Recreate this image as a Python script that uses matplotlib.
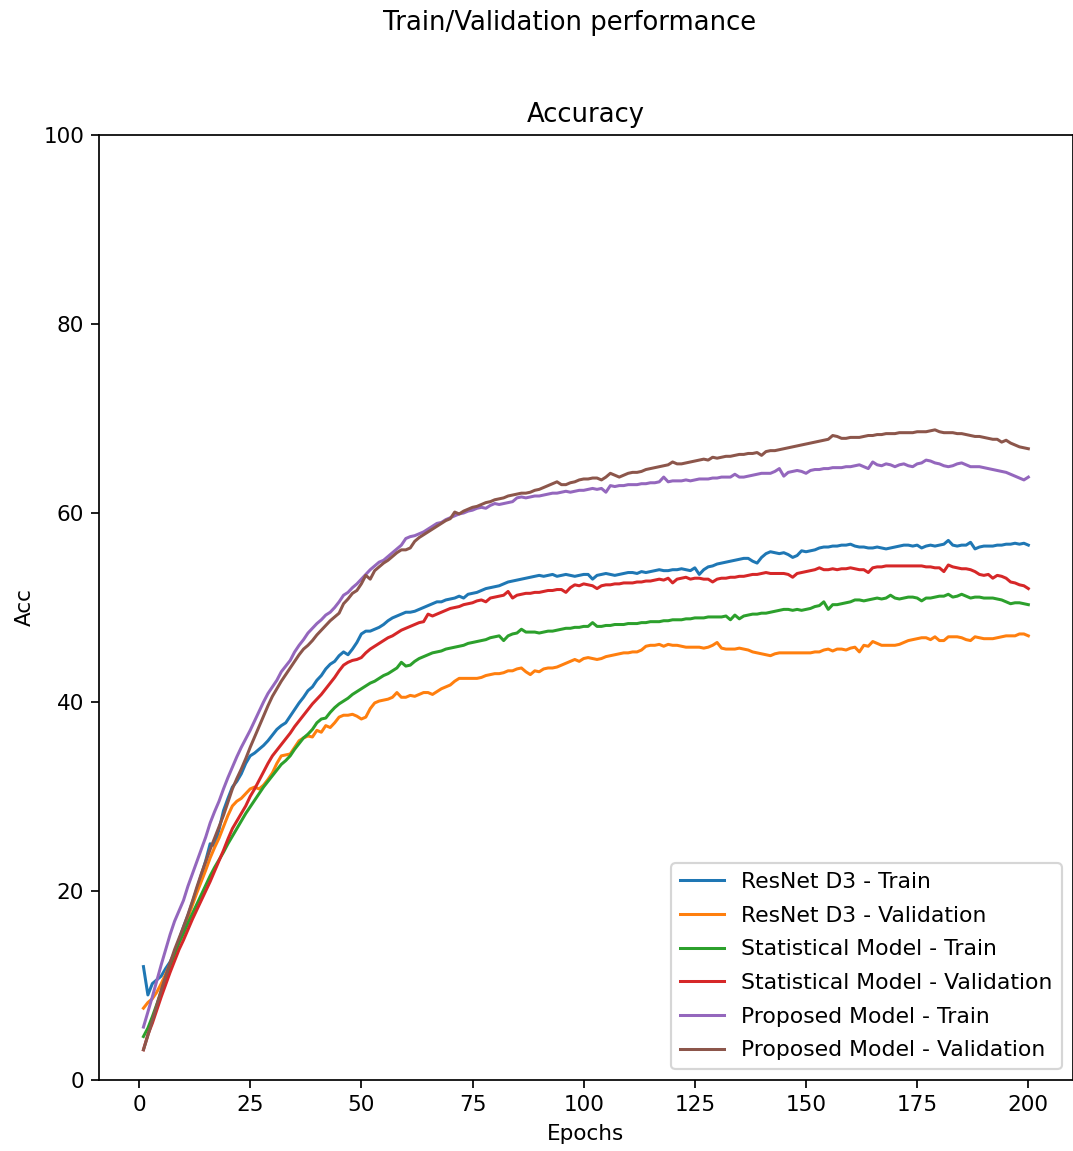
import matplotlib
matplotlib.use("Agg")
import matplotlib.pyplot as plt

epochs = list(range(1, 201))

resnet_train = [
    12.0, 9.0, 10.2, 10.6, 11.0, 11.8, 12.5, 13.5, 14.8, 16.2,
    17.4, 18.8, 20.2, 21.7, 23.2, 25.0, 24.8, 26.5, 28.5, 29.8,
    31.0, 31.6, 32.4, 33.5, 34.3, 34.6, 35.0, 35.4, 35.9, 36.5,
    37.1, 37.5, 37.8, 38.5, 39.2, 39.9, 40.5, 41.2, 41.6, 42.3,
    42.8, 43.5, 44.0, 44.3, 44.9, 45.3, 45.0, 45.6, 46.3, 47.2,
    47.5, 47.5, 47.7, 47.9, 48.2, 48.6, 48.9, 49.1, 49.3, 49.5,
    49.5, 49.6, 49.8, 50.0, 50.2, 50.4, 50.6, 50.6, 50.8, 50.9,
    51.0, 51.2, 51.0, 51.4, 51.5, 51.6, 51.8, 52.0, 52.1, 52.2,
    52.3, 52.5, 52.7, 52.8, 52.9, 53.0, 53.1, 53.2, 53.3, 53.4,
    53.3, 53.4, 53.5, 53.3, 53.4, 53.5, 53.4, 53.3, 53.4, 53.5,
    53.5, 53.0, 53.4, 53.5, 53.6, 53.5, 53.4, 53.5, 53.6, 53.7,
    53.7, 53.6, 53.8, 53.7, 53.8, 53.9, 54.0, 53.9, 53.9, 54.0,
    54.0, 54.1, 54.0, 53.9, 54.2, 53.5, 54.0, 54.3, 54.4, 54.6,
    54.7, 54.8, 54.9, 55.0, 55.1, 55.2, 55.2, 54.9, 54.7, 55.3,
    55.7, 55.9, 55.8, 55.7, 55.8, 55.6, 55.3, 55.5, 56.0, 55.9,
    56.0, 56.1, 56.3, 56.4, 56.4, 56.5, 56.5, 56.6, 56.6, 56.7,
    56.5, 56.4, 56.4, 56.3, 56.3, 56.4, 56.3, 56.2, 56.3, 56.4,
    56.5, 56.6, 56.6, 56.5, 56.6, 56.3, 56.5, 56.6, 56.5, 56.6,
    56.7, 57.1, 56.6, 56.5, 56.6, 56.6, 56.9, 56.2, 56.4, 56.5,
    56.5, 56.5, 56.6, 56.6, 56.7, 56.7, 56.8, 56.7, 56.8, 56.6,
]

resnet_val = [
    7.6, 8.2, 8.6, 9.3, 10.2, 11.2, 12.3, 13.5, 14.7, 16.0,
    17.2, 18.5, 19.8, 21.0, 22.2, 23.5, 24.6, 25.6, 26.8, 28.0,
    29.0, 29.5, 29.8, 30.3, 30.8, 31.0, 30.8, 31.2, 31.8, 32.5,
    33.5, 34.3, 34.4, 34.5, 35.2, 35.9, 36.2, 36.4, 36.3, 37.0,
    36.8, 37.5, 37.3, 37.8, 38.4, 38.6, 38.6, 38.7, 38.5, 38.2,
    38.4, 39.3, 39.9, 40.1, 40.2, 40.3, 40.5, 41.0, 40.5, 40.5,
    40.7, 40.6, 40.8, 41.0, 41.0, 40.8, 41.1, 41.4, 41.6, 41.8,
    42.2, 42.5, 42.5, 42.5, 42.5, 42.5, 42.6, 42.8, 42.9, 43.0,
    43.0, 43.1, 43.3, 43.3, 43.5, 43.6, 43.2, 42.9, 43.3, 43.2,
    43.5, 43.6, 43.6, 43.7, 43.9, 44.1, 44.3, 44.5, 44.3, 44.6,
    44.7, 44.6, 44.5, 44.6, 44.8, 44.9, 45.0, 45.1, 45.2, 45.2,
    45.3, 45.3, 45.5, 45.9, 46.0, 46.0, 46.1, 45.9, 46.1, 46.0,
    46.0, 45.9, 45.8, 45.8, 45.8, 45.8, 45.7, 45.8, 46.0, 46.3,
    45.7, 45.6, 45.6, 45.6, 45.7, 45.6, 45.5, 45.3, 45.2, 45.1,
    45.0, 44.9, 45.1, 45.2, 45.2, 45.2, 45.2, 45.2, 45.2, 45.2,
    45.2, 45.3, 45.3, 45.5, 45.6, 45.4, 45.6, 45.6, 45.5, 45.7,
    45.8, 45.3, 46.0, 45.9, 46.4, 46.2, 46.0, 46.0, 46.0, 46.0,
    46.1, 46.3, 46.5, 46.6, 46.7, 46.8, 46.8, 46.6, 46.9, 46.5,
    46.5, 46.9, 46.9, 46.9, 46.8, 46.6, 46.5, 46.9, 46.8, 46.7,
    46.7, 46.7, 46.8, 46.9, 47.0, 47.0, 47.0, 47.2, 47.2, 47.0,
]

stat_train = [
    4.6, 5.5, 6.7, 8.0, 9.4, 10.8, 12.1, 13.3, 14.5, 15.5,
    16.6, 17.6, 18.6, 19.6, 20.6, 21.6, 22.5, 23.3, 24.1, 25.0,
    25.8, 26.6, 27.4, 28.2, 28.9, 29.6, 30.3, 31.0, 31.6, 32.2,
    32.8, 33.4, 33.8, 34.3, 35.0, 35.6, 36.2, 36.6, 37.1, 37.8,
    38.2, 38.3, 38.9, 39.4, 39.8, 40.1, 40.4, 40.8, 41.1, 41.4,
    41.7, 42.0, 42.2, 42.5, 42.8, 43.0, 43.3, 43.6, 44.2, 43.8,
    43.9, 44.3, 44.6, 44.8, 45.0, 45.2, 45.3, 45.4, 45.6, 45.7,
    45.8, 45.9, 46.0, 46.2, 46.3, 46.4, 46.5, 46.6, 46.8, 46.9,
    47.0, 46.5, 47.0, 47.2, 47.3, 47.7, 47.4, 47.4, 47.4, 47.3,
    47.4, 47.5, 47.5, 47.6, 47.7, 47.8, 47.8, 47.9, 47.9, 48.0,
    48.0, 48.4, 48.0, 48.0, 48.1, 48.1, 48.2, 48.2, 48.2, 48.3,
    48.3, 48.3, 48.4, 48.4, 48.5, 48.5, 48.5, 48.6, 48.6, 48.7,
    48.7, 48.7, 48.8, 48.8, 48.9, 48.9, 48.9, 49.0, 49.0, 49.0,
    49.0, 49.1, 48.7, 49.2, 48.8, 49.1, 49.2, 49.3, 49.3, 49.4,
    49.4, 49.5, 49.6, 49.7, 49.8, 49.8, 49.7, 49.8, 49.7, 49.8,
    49.9, 50.1, 50.2, 50.6, 49.8, 50.3, 50.3, 50.4, 50.5, 50.6,
    50.8, 50.8, 50.7, 50.8, 50.9, 51.0, 50.9, 51.0, 51.3, 51.0,
    50.9, 51.0, 51.1, 51.1, 51.0, 50.7, 51.0, 51.0, 51.1, 51.2,
    51.2, 51.4, 51.1, 51.2, 51.4, 51.2, 51.0, 51.1, 51.1, 51.0,
    51.0, 51.0, 50.9, 50.8, 50.6, 50.4, 50.5, 50.5, 50.4, 50.3,
]

stat_val = [
    3.2, 4.8, 6.0, 7.4, 8.8, 10.1, 11.4, 12.6, 13.8, 14.8,
    15.9, 17.0, 18.0, 19.0, 20.0, 21.0, 22.1, 23.2, 24.3, 25.5,
    26.6, 27.4, 28.2, 29.0, 30.0, 30.8, 31.7, 32.6, 33.5, 34.3,
    34.9, 35.5, 36.1, 36.7, 37.4, 38.0, 38.6, 39.2, 39.8, 40.3,
    40.8, 41.4, 42.0, 42.6, 43.3, 43.9, 44.2, 44.4, 44.5, 44.7,
    45.2, 45.6, 45.9, 46.2, 46.5, 46.8, 47.0, 47.3, 47.6, 47.8,
    48.0, 48.2, 48.4, 48.5, 49.3, 49.1, 49.3, 49.5, 49.7, 49.9,
    50.0, 50.1, 50.3, 50.4, 50.5, 50.7, 50.8, 50.6, 51.0, 51.1,
    51.2, 51.3, 51.7, 51.0, 51.3, 51.4, 51.5, 51.5, 51.6, 51.6,
    51.7, 51.8, 51.8, 51.9, 51.9, 51.6, 52.1, 52.4, 52.3, 52.5,
    52.4, 52.3, 52.0, 52.3, 52.4, 52.4, 52.5, 52.5, 52.6, 52.6,
    52.6, 52.7, 52.7, 52.8, 52.8, 52.9, 53.0, 52.9, 53.1, 52.6,
    53.0, 53.1, 53.2, 53.0, 53.1, 53.1, 53.0, 53.0, 52.7, 53.0,
    53.1, 53.1, 53.2, 53.2, 53.3, 53.3, 53.4, 53.5, 53.5, 53.6,
    53.7, 53.6, 53.6, 53.6, 53.6, 53.5, 53.2, 53.6, 53.7, 53.8,
    53.9, 54.0, 54.2, 54.0, 54.0, 54.1, 54.0, 54.1, 54.1, 54.2,
    54.1, 54.0, 54.0, 53.7, 54.2, 54.3, 54.3, 54.4, 54.4, 54.4,
    54.4, 54.4, 54.4, 54.4, 54.4, 54.4, 54.3, 54.3, 54.2, 54.2,
    53.8, 54.5, 54.3, 54.2, 54.1, 54.1, 54.0, 53.8, 53.5, 53.4,
    53.5, 53.1, 53.4, 53.3, 53.1, 52.7, 52.6, 52.4, 52.3, 52.0,
]

prop_train = [
    5.6, 7.2, 8.8, 10.5, 12.2, 13.8, 15.4, 16.8, 17.9, 19.0,
    20.5, 21.8, 23.1, 24.4, 25.7, 27.2, 28.4, 29.5, 30.8, 32.0,
    33.1, 34.2, 35.2, 36.1, 37.0, 38.0, 39.0, 40.0, 40.9, 41.6,
    42.3, 43.2, 43.8, 44.4, 45.3, 46.0, 46.6, 47.3, 47.8, 48.3,
    48.7, 49.2, 49.5, 50.0, 50.6, 51.3, 51.6, 52.1, 52.5, 53.0,
    53.5, 54.0, 54.4, 54.8, 55.0, 55.4, 55.8, 56.2, 56.6, 57.3,
    57.5, 57.6, 57.8, 58.0, 58.3, 58.6, 58.9, 59.0, 59.3, 59.5,
    59.7, 59.9, 60.0, 60.2, 60.3, 60.5, 60.6, 60.5, 60.8, 61.0,
    60.9, 61.0, 61.1, 61.2, 61.6, 61.7, 61.6, 61.7, 61.8, 61.8,
    61.9, 62.0, 62.1, 62.1, 62.2, 62.3, 62.2, 62.3, 62.4, 62.4,
    62.5, 62.6, 62.5, 62.6, 62.2, 62.9, 62.8, 62.9, 62.9, 63.0,
    63.0, 63.0, 63.1, 63.1, 63.2, 63.2, 63.3, 63.8, 63.3, 63.4,
    63.4, 63.4, 63.5, 63.4, 63.5, 63.6, 63.6, 63.6, 63.7, 63.7,
    63.8, 63.8, 63.8, 64.1, 63.8, 63.8, 63.9, 64.0, 64.1, 64.2,
    64.2, 64.2, 64.4, 64.7, 63.9, 64.3, 64.4, 64.5, 64.4, 64.2,
    64.5, 64.6, 64.6, 64.7, 64.7, 64.8, 64.8, 64.8, 64.9, 64.9,
    65.0, 65.1, 64.9, 64.7, 65.4, 65.1, 65.0, 65.2, 65.1, 64.9,
    65.1, 65.2, 65.0, 64.9, 65.2, 65.3, 65.6, 65.5, 65.3, 65.2,
    65.0, 64.9, 65.0, 65.2, 65.3, 65.1, 64.9, 64.9, 64.9, 64.8,
    64.7, 64.6, 64.5, 64.4, 64.3, 64.1, 63.9, 63.7, 63.5, 63.8,
]

prop_val = [
    3.2, 4.7, 6.3, 7.9, 9.5, 11.0, 12.4, 13.8, 15.0, 16.2,
    17.5, 18.9, 20.4, 21.8, 23.1, 24.4, 25.6, 26.8, 28.0, 29.4,
    30.8, 31.9, 32.9, 34.0, 35.2, 36.3, 37.4, 38.5, 39.6, 40.6,
    41.4, 42.2, 42.9, 43.6, 44.3, 45.0, 45.6, 46.0, 46.5, 47.1,
    47.6, 48.1, 48.6, 49.0, 49.4, 50.4, 50.9, 51.5, 51.8, 52.5,
    53.4, 53.0, 53.9, 54.3, 54.7, 55.0, 55.4, 55.8, 56.1, 56.1,
    56.3, 57.0, 57.4, 57.7, 58.0, 58.3, 58.6, 58.9, 59.2, 59.4,
    60.1, 59.9, 60.2, 60.4, 60.6, 60.7, 60.9, 61.1, 61.2, 61.4,
    61.5, 61.6, 61.8, 61.9, 62.0, 62.1, 62.1, 62.2, 62.4, 62.5,
    62.7, 62.9, 63.1, 63.3, 63.0, 63.0, 63.2, 63.3, 63.5, 63.6,
    63.6, 63.7, 63.7, 63.5, 63.8, 64.2, 64.0, 63.8, 64.0, 64.2,
    64.3, 64.3, 64.4, 64.6, 64.7, 64.8, 64.9, 65.0, 65.1, 65.4,
    65.2, 65.2, 65.3, 65.4, 65.5, 65.6, 65.7, 65.6, 65.9, 65.8,
    65.9, 66.0, 66.0, 66.1, 66.2, 66.2, 66.3, 66.3, 66.4, 66.1,
    66.5, 66.6, 66.6, 66.7, 66.8, 66.9, 67.0, 67.1, 67.2, 67.3,
    67.4, 67.5, 67.6, 67.7, 67.8, 68.2, 68.1, 67.9, 67.9, 68.0,
    68.0, 68.0, 68.1, 68.2, 68.2, 68.3, 68.3, 68.4, 68.4, 68.4,
    68.5, 68.5, 68.5, 68.5, 68.6, 68.6, 68.6, 68.7, 68.8, 68.6,
    68.5, 68.5, 68.5, 68.4, 68.4, 68.3, 68.2, 68.1, 68.1, 68.0,
    67.9, 67.8, 67.8, 67.5, 67.7, 67.4, 67.2, 67.0, 66.9, 66.8,
]

series = [
    ("ResNet D3 - Train", resnet_train),
    ("ResNet D3 - Validation", resnet_val),
    ("Statistical Model - Train", stat_train),
    ("Statistical Model - Validation", stat_val),
    ("Proposed Model - Train", prop_train),
    ("Proposed Model - Validation", prop_val),
]

DPI = 155
W, H = 1073, 1151
fig = plt.figure(figsize=(W / DPI, H / DPI), dpi=DPI)
ax = fig.add_axes([99.2 / W, 1 - 1080 / H, (1072.6 - 99.2) / W, (1080 - 135) / H])

for label, vals in series:
    ax.plot(epochs, vals, label=label, linewidth=1.4)

ax.set_ylim(0, 100)
ax.set_title("Accuracy")
ax.set_xlabel("Epochs")
ax.set_ylabel("Acc")
ax.legend(loc="lower right", fontsize=10.2, labelspacing=0.62)
fig.suptitle("Train/Validation performance", x=570 / W, y=0.991, va="top")

fig.savefig("out.png", dpi=DPI)
